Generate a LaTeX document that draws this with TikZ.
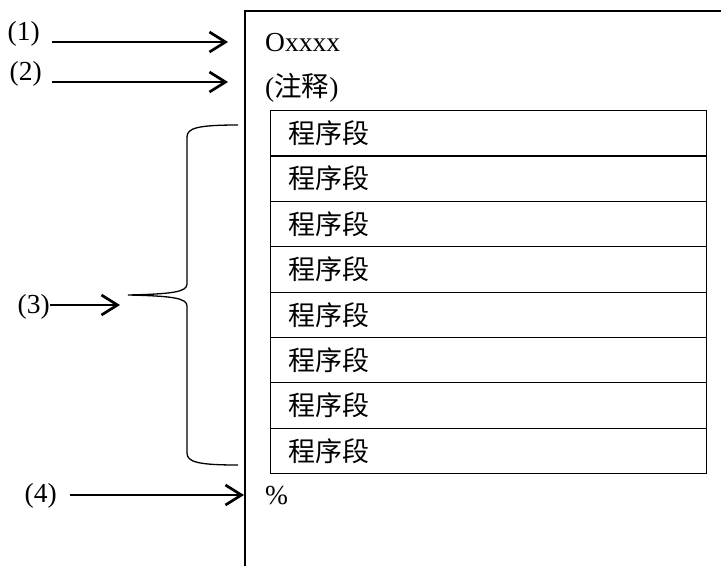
\documentclass[tikz,border=0pt]{standalone}
\usepackage{fontspec}
\setmainfont{Liberation Serif}
\newfontfamily\cjk{Noto Sans CJK SC}
\usetikzlibrary{arrows.meta,calc}
\begin{document}
\begin{tikzpicture}[x=1pt,y=-1pt,
  txt/.style={font=\fontsize{27.5}{30}\selectfont, inner sep=0pt},
  ptr/.style={line width=2.7pt, -{Straight Barb[length=16pt,width=20pt,line width=2.7pt]}},
  frame/.style={line width=1.4pt},
  brace/.style={line width=1.3pt},
  seg/.style={draw, line width=1.2pt, anchor=north west, text width=400pt,
    inner xsep=18pt, inner ysep=0pt, minimum height=45.375pt, align=left,
    font=\fontsize{27}{30}\selectfont\cjk},
]
\useasboundingbox (0,0) rectangle (721,566);

% program frame, open to the right and below
\coordinate (fb) at (245,566);
\coordinate (ftl) at (245,11);
\coordinate (ftr) at (721,11);
\draw[frame] (fb) -- (ftl) -- (ftr);

% header lines, blocks and terminator
\node[txt, anchor=west] (pname) at (265,43) {Oxxxx};
\node[txt, anchor=west] (pnote) at (265,88) {({\cjk 注释})};
\foreach \i in {1,...,8}
  \node[seg] (s\i) at (270,{110+45.375*(\i-1)}) {程序段};
\node[txt, anchor=west] (pend) at (265,496) {\%};

% labels
\node[txt, anchor=east] (l1) at (40,34) {(1)};
\node[txt, anchor=east] (l2) at (42,74) {(2)};
\node[txt, anchor=east] (l3) at (50,307) {(3)};
\node[txt, anchor=east] (l4) at (57,496) {(4)};

% arrow targets
\coordinate (t1) at (228,42);
\coordinate (t2) at (228,82);
\coordinate (t3) at (120,305);
\coordinate (t4) at (244,495);

\draw[ptr] ($(l1.east |- t1)+(12,0)$) -- (t1);
\draw[ptr] ($(l2.east |- t2)+(10,0)$) -- (t2);
\draw[ptr] (l3.east |- t3) -- (t3);
\draw[ptr] ($(l4.east |- t4)+(13,0)$) -- (t4);

% curly brace grouping the blocks
\coordinate (btop) at (238,125);
\coordinate (btip) at (128,295);
\coordinate (bbot) at (238,465);
\draw[brace] (btop) .. controls (198,125) and (187,128) .. (187,137)
  -- (187,284) .. controls (187,292) and (172,294) .. (btip)
  .. controls (172,296) and (187,298) .. (187,306)
  -- (187,453) .. controls (187,462) and (198,465) .. (bbot);
\end{tikzpicture}
\end{document}
